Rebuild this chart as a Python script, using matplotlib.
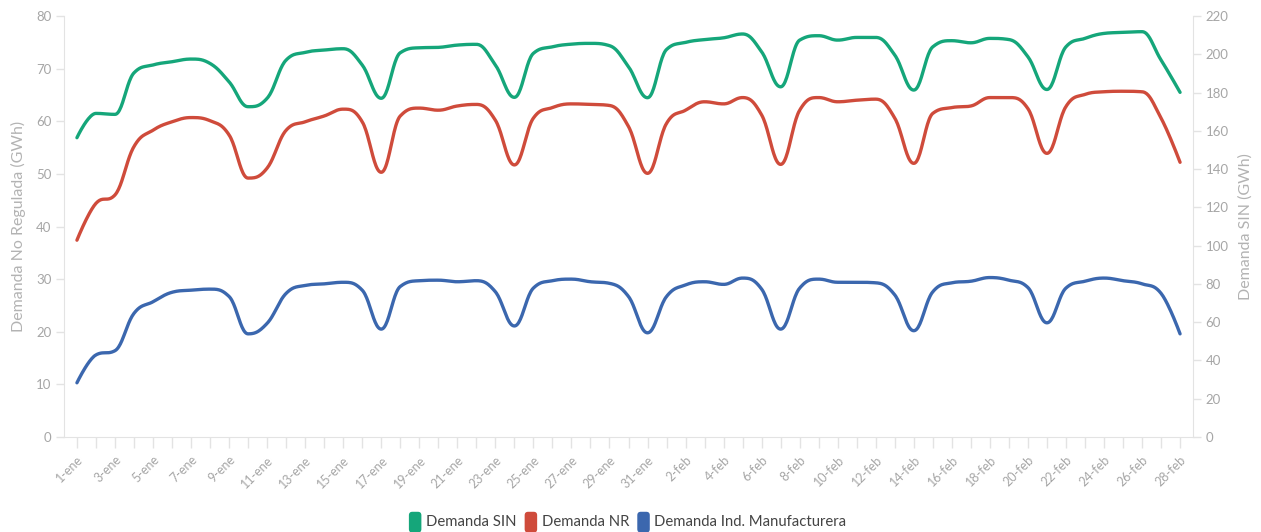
import numpy as np
import matplotlib
matplotlib.use("Agg")
import matplotlib.pyplot as plt
from matplotlib.patches import FancyBboxPatch, Patch
from matplotlib.legend_handler import HandlerPatch

plt.rcParams['font.family'] = ['Lato', 'DejaVu Sans']

# Daily demand, 1 January to 28 February
dias = [f"{d}-ene" for d in range(1, 32)] + [f"{d}-feb" for d in range(1, 29)]

demanda_sin = [
    156.4, 169.1, 168.6, 190.3, 194.4, 196.1, 197.5, 195.2, 185.6, 172.6,
    177.0, 197.0, 201.0, 202.2, 202.9, 194.4, 177.0, 200.8, 203.4, 203.6,
    204.8, 205.2, 194.4, 177.5, 200.5, 203.9, 205.3, 205.7, 204.5, 193.5,
    177.3, 202.5, 206.2, 207.7, 208.6, 210.6, 201.3, 183.0, 207.4, 209.7,
    207.4, 208.8, 208.8, 199.6, 181.3, 203.9, 207.1, 206.0, 208.3, 207.7,
    198.7, 181.6, 203.9, 208.3, 210.9, 211.4, 211.8, 197.0, 180.1,
]

demanda_nr = [
    37.4, 44.4, 46.0, 55.2, 58.3, 59.9, 60.7, 60.1, 57.4, 49.2,
    51.1, 58.3, 59.9, 61.0, 62.3, 59.9, 50.3, 61.0, 62.5, 62.1,
    62.9, 63.2, 60.2, 51.7, 60.6, 62.6, 63.3, 63.2, 63.0, 59.0,
    50.1, 59.6, 62.1, 63.7, 63.3, 64.5, 61.2, 51.8, 62.1, 64.5,
    63.7, 64.0, 64.2, 60.6, 52.0, 61.5, 62.6, 62.9, 64.5, 64.5,
    62.4, 53.9, 62.8, 65.1, 65.6, 65.7, 65.6, 60.6, 52.2,
]

demanda_manuf = [
    10.3, 15.6, 16.4, 23.5, 25.7, 27.5, 27.9, 28.1, 26.7, 19.6,
    21.6, 27.3, 28.8, 29.1, 29.4, 27.9, 20.5, 28.6, 29.7, 29.8,
    29.5, 29.7, 27.6, 21.1, 28.3, 29.7, 30.0, 29.5, 29.2, 26.7,
    19.8, 26.7, 28.9, 29.5, 29.0, 30.2, 28.1, 20.5, 28.3, 30.0,
    29.4, 29.4, 29.3, 27.0, 20.2, 27.6, 29.3, 29.6, 30.3, 29.8,
    28.4, 21.7, 28.3, 29.6, 30.2, 29.7, 29.1, 27.3, 19.6,
]

COLOR_SIN = "#15a67a"
COLOR_NR = "#cf4b3b"
COLOR_MANUF = "#3b67ae"
AXIS_GREY = "#e3e3e3"
LABEL_GREY = "#a6a6a6"


def spline(xv, yv, smoothing=1.5, steps=24):
    """Smooth curve through the points using bezier segments."""
    xv = np.asarray(xv, float)
    yv = np.asarray(yv, float)
    n = len(xv)
    denom = smoothing + 1
    left = [(xv[i], yv[i]) for i in range(n)]
    right = [(xv[i], yv[i]) for i in range(n)]
    for i in range(1, n - 1):
        px, py = xv[i - 1], yv[i - 1]
        nx, ny = xv[i + 1], yv[i + 1]
        x, y = xv[i], yv[i]
        lcx = (smoothing * x + px) / denom
        lcy = (smoothing * y + py) / denom
        rcx = (smoothing * x + nx) / denom
        rcy = (smoothing * y + ny) / denom
        if rcx != lcx:
            corr = ((rcy - lcy) * (rcx - x)) / (rcx - lcx) + y - rcy
            lcy += corr
            rcy += corr
        if lcy > py and lcy > y:
            lcy = max(py, y)
            rcy = 2 * y - lcy
        elif lcy < py and lcy < y:
            lcy = min(py, y)
            rcy = 2 * y - lcy
        if rcy > ny and rcy > y:
            rcy = max(ny, y)
            lcy = 2 * y - rcy
        elif rcy < ny and rcy < y:
            rcy = min(ny, y)
            lcy = 2 * y - rcy
        left[i] = (lcx, lcy)
        right[i] = (rcx, rcy)
    t = np.linspace(0, 1, steps)[:, None]
    pts = []
    for i in range(n - 1):
        p0 = np.array([xv[i], yv[i]])
        p1 = np.array(right[i])
        p2 = np.array(left[i + 1])
        p3 = np.array([xv[i + 1], yv[i + 1]])
        seg = ((1 - t) ** 3) * p0 + 3 * ((1 - t) ** 2) * t * p1 + 3 * (1 - t) * t ** 2 * p2 + t ** 3 * p3
        pts.append(seg if i == 0 else seg[1:])
    pts = np.vstack(pts)
    return pts[:, 0], pts[:, 1]


fig = plt.figure(figsize=(12.61, 5.32), dpi=100)
ax = fig.add_axes([64 / 1261, 1 - 437 / 532, (1193 - 64) / 1261, (437 - 16) / 532])
ax2 = ax.twinx()

idx = np.arange(len(dias))

sx, sy = spline(idx, demanda_nr)
ax.plot(sx, sy, color=COLOR_NR, lw=2.4, solid_capstyle='round', zorder=3)
sx, sy = spline(idx, demanda_manuf)
ax.plot(sx, sy, color=COLOR_MANUF, lw=2.4, solid_capstyle='round', zorder=3)
sx, sy = spline(idx, demanda_sin)
ax2.plot(sx, sy, color=COLOR_SIN, lw=2.4, solid_capstyle='round', zorder=3)

ax.set_xlim(-0.68, len(dias) - 1 + 0.68)
ax.set_ylim(0, 80)
ax2.set_ylim(0, 220)
ax.set_yticks(np.arange(0, 81, 10))
ax2.set_yticks(np.arange(0, 221, 20))

ax.set_xticks(idx)
ax.set_xticklabels([d if i % 2 == 0 else "" for i, d in enumerate(dias)],
                   rotation=45, ha='right', va='top', rotation_mode='anchor')

for a in (ax, ax2):
    for s in a.spines.values():
        s.set_visible(False)
    a.tick_params(axis='y', colors=AXIS_GREY, labelcolor=LABEL_GREY,
                  labelsize=9.5, length=6, width=1, pad=3)
ax.spines['left'].set_visible(True)
ax.spines['left'].set_color(AXIS_GREY)
ax.spines['bottom'].set_visible(True)
ax.spines['bottom'].set_color(AXIS_GREY)
ax2.spines['right'].set_visible(True)
ax2.spines['right'].set_color(AXIS_GREY)
ax.tick_params(axis='x', colors=AXIS_GREY, labelcolor=LABEL_GREY,
               labelsize=9, length=8, width=1, pad=4)

ax.set_ylabel("Demanda No Regulada (GWh)", color="#b3b3b3", fontsize=11.5)
ax2.set_ylabel("Demanda SIN (GWh)", color="#b3b3b3", fontsize=11.5,
               rotation=90, va='bottom')
ax.yaxis.set_label_coords(-0.034, 0.5)
ax2.yaxis.set_label_coords(1.053, 0.5)


class RoundBox(HandlerPatch):
    def create_artists(self, legend, orig_handle, xdescent, ydescent, width, height, fontsize, trans):
        w, h = 9, 15
        p = FancyBboxPatch((xdescent * -1 + (width - w) / 2, -ydescent + (height - h) / 2 - 1), w, h,
                           boxstyle="round,pad=0,rounding_size=2.5",
                           facecolor=orig_handle.get_facecolor(), edgecolor='none',
                           transform=trans)
        return [p]


handles = [Patch(facecolor=COLOR_SIN), Patch(facecolor=COLOR_NR), Patch(facecolor=COLOR_MANUF)]
labels = ["Demanda SIN", "Demanda NR", "Demanda Ind. Manufacturera"]
fig.legend(handles, labels, loc='center', bbox_to_anchor=(628 / 1261, 1 - 521 / 532),
           ncol=3, frameon=False, fontsize=10.7, handlelength=0.75, handleheight=1.2,
           handletextpad=0.35, columnspacing=0.6, labelcolor="#444444",
           handler_map={Patch: RoundBox()})

fig.savefig("out.png", dpi=100, facecolor="white")
